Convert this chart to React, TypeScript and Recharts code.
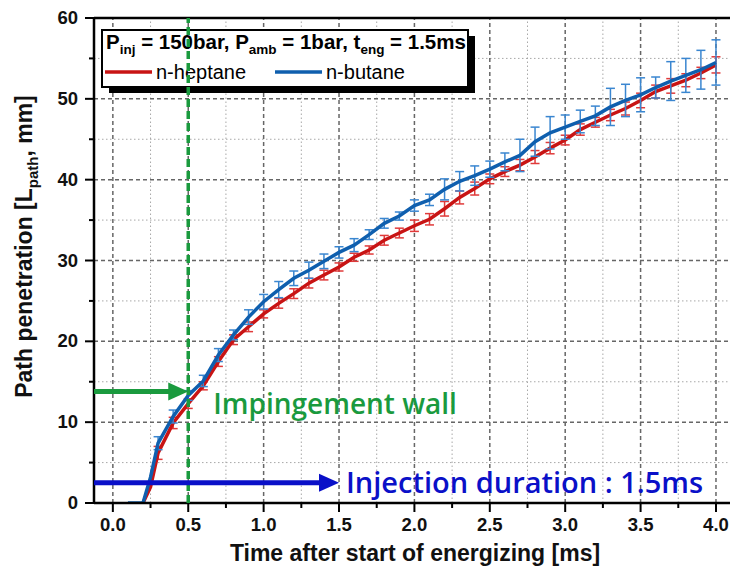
import React from 'react';
import { LineChart, Line, XAxis, YAxis, ErrorBar, ReferenceLine } from 'recharts';

const FONT = '"Liberation Sans", Arial, Helvetica, sans-serif';
const ANNOT_FONT = '"Open Sans", "Noto Sans", sans-serif';

const RED = '#c81414';
const RED_ERR = '#e03a3a';
const BLUE = '#0f5fae';
const BLUE_ERR = '#3a86d0';
const GREEN = '#1a9a3e';
const ARROW_BLUE = '#0a10c8';

// time after start of energizing [ms]
const times = [
  0.1, 0.2, 0.25, 0.3, 0.4, 0.5, 0.6, 0.7, 0.8, 0.9, 1.0, 1.1, 1.2, 1.3, 1.4, 1.5, 1.6, 1.7, 1.8, 1.9, 2.0,
  2.1, 2.2, 2.3, 2.4, 2.5, 2.6, 2.7, 2.8, 2.9, 3.0, 3.1, 3.2, 3.3, 3.4, 3.5, 3.6, 3.7, 3.8, 3.9, 4.0,
];

// n-heptane path penetration [mm]
const heptane = [
  null, 0, 2.0, 6.2, 9.9, 12.3, 14.5, 17.5, 20.2, 21.8, 23.4, 24.7, 25.9, 27.2, 28.2, 29.2, 30.4, 31.3, 32.5, 33.4, 34.3,
  35.1, 36.4, 37.8, 38.9, 40.1, 41.0, 41.8, 42.8, 43.9, 44.9, 46.2, 47.1, 48.0, 48.8, 49.8, 50.9, 51.6, 52.3, 53.2, 54.2,
];
const heptaneErr = [
  null, null, null, 0.8, 0.7, 0.6, 0.5, 0.6, 0.6, 0.6, 0.5, 0.6, 0.6, 0.6, 0.6, 0.5, 0.5, 0.5, 0.6, 0.6, 0.7,
  0.7, 0.9, 0.8, 0.8, 0.6, 0.6, 0.7, 0.8, 0.7, 0.6, 0.7, 0.6, 0.7, 0.8, 0.9, 0.8, 0.9, 0.8, 0.7, 1.0,
];

// n-butane path penetration [mm]
const butane = [
  0, 0, 3.2, 7.4, 10.7, 13.3, 15.1, 18.3, 20.8, 23.0, 24.9, 26.4, 27.8, 28.8, 29.9, 31.0, 31.9, 33.2, 34.6, 35.5, 36.8,
  37.5, 38.8, 39.8, 40.5, 41.3, 42.2, 43.0, 44.7, 45.8, 46.5, 47.2, 47.9, 49.0, 49.8, 50.5, 51.4, 52.2, 52.9, 53.6, 54.5,
];
const butaneErr = [
  null, null, null, 0.8, 0.8, 0.6, 0.7, 0.8, 0.6, 0.9, 0.9, 1.0, 0.9, 1.0, 0.9, 0.7, 0.8, 0.6, 0.6, 0.5, 0.7,
  0.7, 1.3, 1.2, 1.2, 1.0, 1.1, 2.0, 1.8, 2.0, 1.5, 1.4, 1.2, 2.3, 2.0, 2.1, 1.3, 2.4, 2.1, 2.4, 2.8,
];

const seriesNames = ['n-heptane', 'n-butane'];

const xMajorTicks = [0, 0.5, 1.0, 1.5, 2.0, 2.5, 3.0, 3.5, 4.0];
const xMinorTicks = [0.25, 0.75, 1.25, 1.75, 2.25, 2.75, 3.25, 3.75];
const yMajorTicks = [0, 10, 20, 30, 40, 50, 60];
const yMinorTicks = [5, 15, 25, 35, 45, 55];
const xDomain = [-0.125, 4.093];
const yDomain = [0, 60];

const xTitle = 'Time after start of energizing [ms]';
const wallTime = 0.5;
const wallPenetration = 13.8;
const wallText = 'Impingement wall';
const injectionDuration = 1.5;
const injectionArrowLevel = 2.5;
const injectionText = 'Injection duration : 1.5ms';

const data = times.map((t, i) => ({
  t,
  heptane: heptane[i],
  heptaneErr: heptaneErr[i],
  butane: butane[i],
  butaneErr: butaneErr[i],
}));

const isMajorX = (v: number) => Math.abs(v * 2 - Math.round(v * 2)) < 1e-6;

const XTick = (props: any) => {
  const { x, y, payload } = props;
  const v = payload.value;
  const major = isMajorX(v);
  return (
    <g>
      <line x1={x} x2={x} y1={y} y2={y + (major ? 9 : 5)} stroke="#000" strokeWidth={2} />
      {major && (
        <text x={x} y={y + 28} textAnchor="middle" fontFamily={FONT} fontWeight="bold" fontSize={18.5} fill="#111">
          {v.toFixed(1)}
        </text>
      )}
    </g>
  );
};

const YTick = (props: any) => {
  const { x, y, payload } = props;
  const v = payload.value;
  const major = v % 10 === 0;
  return (
    <g>
      <line x1={x - (major ? 9 : 5)} x2={x} y1={y} y2={y} stroke="#000" strokeWidth={2} />
      {major && (
        <text x={x - 16} y={y + 6} textAnchor="end" fontFamily={FONT} fontWeight="bold" fontSize={18.5} fill="#111">
          {v}
        </text>
      )}
    </g>
  );
};

const XTitle = (props: any) => {
  const vb = props.viewBox || {};
  return (
    <text x={vb.x + vb.width / 2 + 3} y={vb.y + 58} textAnchor="middle" fontFamily={FONT} fontWeight="bold" fontSize={23} fill="#111">
      {xTitle}
    </text>
  );
};

const YTitle = (props: any) => {
  const vb = props.viewBox || {};
  const cx = 32;
  const cy = vb.y + vb.height / 2 - 14;
  return (
    <text
      x={cx}
      y={cy}
      transform={`rotate(-90, ${cx}, ${cy})`}
      textAnchor="middle"
      fontFamily={FONT}
      fontWeight="bold"
      fontSize={23}
      fill="#111"
    >
      Path penetration [L
      <tspan dy={6} fontSize={15}>path</tspan>
      <tspan dy={-6}>, mm]</tspan>
    </text>
  );
};

const LegendBox = () => (
  <g>
    <rect x={109} y={36} width={366} height={57} fill="#000" />
    <rect x={102} y={30} width={366} height={57} fill="#fff" stroke="#000" strokeWidth={2} />
    <text x={106} y={49} fontFamily={FONT} fontWeight="bold" fontSize={20.5} fill="#000" style={{ whiteSpace: 'pre' }}>
      P<tspan dy={5} fontSize={13.5}>inj</tspan>
      <tspan dy={-5}> = 150bar, P</tspan>
      <tspan dy={5} fontSize={13.5}>amb</tspan>
      <tspan dy={-5}> = 1bar, t</tspan>
      <tspan dy={5} fontSize={13.5}>eng</tspan>
      <tspan dy={-5}> = 1.5ms</tspan>
    </text>
    <line x1={105} x2={152} y1={72} y2={72} stroke={RED} strokeWidth={3.5} />
    <text x={156} y={79} fontFamily={FONT} fontSize={20} fill="#000">{seriesNames[0]}</text>
    <line x1={275} x2={322} y1={72} y2={72} stroke={BLUE} strokeWidth={3.5} />
    <text x={326} y={79} fontFamily={FONT} fontSize={20} fill="#000">{seriesNames[1]}</text>
  </g>
);

const WallLine = (props: any) => {
  const { x1, y1, x2, y2 } = props;
  return (
    <g>
      <LegendBox />
      <line x1={x1} y1={y1} x2={x2} y2={y2} stroke={GREEN} strokeWidth={3.5} strokeDasharray="8 4" />
    </g>
  );
};

const makeArrow = (color: string, text: string, dx: number, dy: number, size: number) => (props: any) => {
  const { x1, y1, x2 } = props;
  const left = Math.min(x1, x2);
  const right = Math.max(x1, x2);
  const y = y1;
  const head = 20;
  const half = 9;
  return (
    <g>
      <line x1={left} y1={y} x2={right - head + 1} y2={y} stroke={color} strokeWidth={5} />
      <polygon points={`${right},${y} ${right - head},${y - half} ${right - head},${y + half}`} fill={color} />
      <text x={right + dx} y={y + dy} fill={color} fontFamily={ANNOT_FONT} fontSize={size} fontWeight={600}>
        {text}
      </text>
    </g>
  );
};

const WallArrow = makeArrow(GREEN, wallText, 25, 23, 28);
const InjectionArrow = makeArrow(ARROW_BLUE, injectionText, 7, 10, 29);

export default function App() {
  return (
    <div style={{ position: 'absolute', left: 0, top: 0, width: 730, height: 581, background: '#fff' }}>
      <LineChart width={730} height={581} data={data} margin={{ top: 18, right: 0, bottom: 0, left: 0 }}>
        <XAxis
          dataKey="t"
          type="number"
          domain={xDomain}
          allowDataOverflow
          ticks={[...xMajorTicks, ...xMinorTicks].sort((a, b) => a - b)}
          interval={0}
          tick={<XTick />}
          tickLine={false}
          tickSize={0}
          tickMargin={0}
          axisLine={{ stroke: '#000', strokeWidth: 2.5 }}
          height={78}
          label={<XTitle />}
        />
        <YAxis
          type="number"
          domain={yDomain}
          allowDataOverflow
          ticks={[...yMajorTicks, ...yMinorTicks].sort((a, b) => a - b)}
          interval={0}
          tick={<YTick />}
          tickLine={false}
          tickSize={0}
          tickMargin={0}
          axisLine={{ stroke: '#000', strokeWidth: 2.5 }}
          width={94}
          label={<YTitle />}
        />
        {xMinorTicks.map((v) => (
          <ReferenceLine key={'xm' + v} x={v} stroke="#a8a8a8" strokeWidth={1} strokeDasharray="1.5 2.5" zIndex={-100} />
        ))}
        {yMinorTicks.map((v) => (
          <ReferenceLine key={'ym' + v} y={v} stroke="#a8a8a8" strokeWidth={1} strokeDasharray="1.5 2.5" zIndex={-100} />
        ))}
        {xMajorTicks.map((v) => (
          <ReferenceLine key={'xM' + v} x={v} stroke="#666" strokeWidth={1.5} strokeDasharray="4 3" zIndex={-100} />
        ))}
        {yMajorTicks.slice(1, -1).map((v) => (
          <ReferenceLine key={'yM' + v} y={v} stroke="#666" strokeWidth={1.5} strokeDasharray="4 3" zIndex={-100} />
        ))}
        <ReferenceLine y={yDomain[1]} stroke="#000" strokeWidth={2.5} />
        <Line
          dataKey="heptane"
          name={seriesNames[0]}
          stroke={RED}
          strokeWidth={3.5}
          dot={false}
          type="linear"
          isAnimationActive={false}
        >
          <ErrorBar dataKey="heptaneErr" direction="y" width={4.5} stroke={RED_ERR} strokeWidth={1.5} />
        </Line>
        <Line
          dataKey="butane"
          name={seriesNames[1]}
          stroke={BLUE}
          strokeWidth={3.5}
          dot={false}
          type="linear"
          isAnimationActive={false}
        >
          <ErrorBar dataKey="butaneErr" direction="y" width={4.5} stroke={BLUE_ERR} strokeWidth={1.5} />
        </Line>
        <ReferenceLine x={wallTime} shape={WallLine} zIndex={1000} />
        <ReferenceLine
          segment={[
            { x: xDomain[0], y: wallPenetration },
            { x: wallTime, y: wallPenetration },
          ]}
          shape={WallArrow}
          zIndex={1000}
        />
        <ReferenceLine
          segment={[
            { x: xDomain[0], y: injectionArrowLevel },
            { x: injectionDuration, y: injectionArrowLevel },
          ]}
          shape={InjectionArrow}
          zIndex={1000}
        />
      </LineChart>
    </div>
  );
}
